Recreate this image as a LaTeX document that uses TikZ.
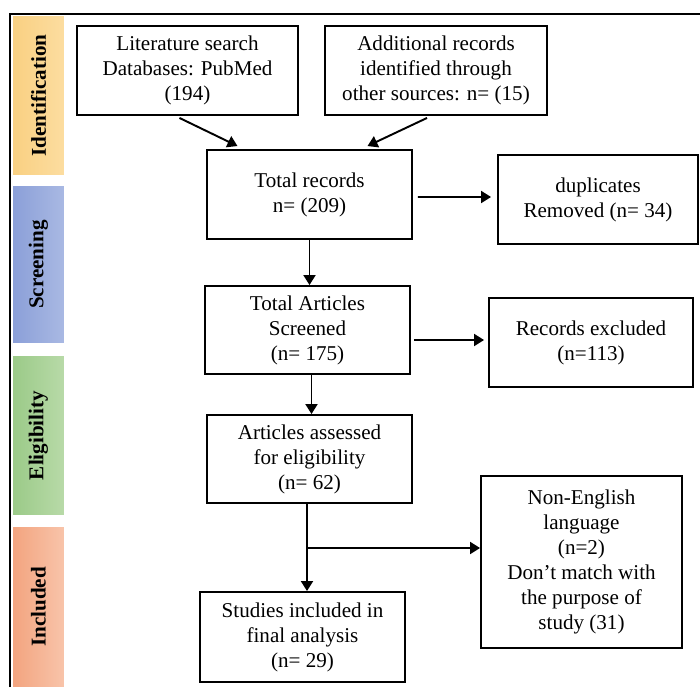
\documentclass[tikz,border=0pt]{standalone}
\usepackage{fontspec}
\setmainfont{Liberation Serif}
\usepackage{xcolor}
\usetikzlibrary{arrows.meta, calc, positioning}

\definecolor{idtop}{HTML}{FCDDA0}
\definecolor{idbot}{HTML}{F9D082}
\definecolor{sctop}{HTML}{A9B9E3}
\definecolor{scbot}{HTML}{8B9FD8}
\definecolor{eltop}{HTML}{B8DAA8}
\definecolor{elbot}{HTML}{9BCA88}
\definecolor{intop}{HTML}{F8C4AA}
\definecolor{inbot}{HTML}{F3A47F}

\tikzset{
  box/.style={draw, line width=1.1pt, align=center, inner sep=2pt, font=\fontsize{12}{14.2}\selectfont},
  phase/.style={rotate=90, minimum height=1.02cm, inner sep=0pt, font=\fontsize{12}{14}\selectfont\bfseries},
  arr/.style={-{Triangle[length=0.2cm, width=0.24cm]}, line width=1.1pt}
}

\begin{document}
\begin{tikzpicture}[x=0.02cm, y=-0.02cm]
\useasboundingbox (0,0) rectangle (700,687);
\draw[line width=1.2pt] (10,687) -- (10,14) -- (700,14);

% phases
\node[phase, minimum width=3.18cm, left color=idbot, right color=idtop] (ident) at (38.5,95.5) {Identification};
\node[phase, minimum width=3.14cm, left color=scbot, right color=sctop] (screen) at (38.5,264.5) {Screening};
\node[phase, minimum width=3.18cm, left color=elbot, right color=eltop] (elig) at (38.5,435.5) {Eligibility};
\node[phase, minimum width=3.2cm, left color=inbot, right color=intop] (incl) at (38.5,607) {Included};

% boxes
\node[box, minimum width=4.42cm, minimum height=1.78cm] (lit) at (187.5,70.5) {Literature search\\Databases: PubMed\\(194)};
\node[box, minimum width=4.44cm, minimum height=1.78cm] (extra) at (436,70.5) {Additional records\\identified through\\other sources: n= (15)};
\node[box, minimum width=4.1cm, minimum height=1.78cm] (total) at (309.5,194.5) {Total records\\n= (209)};
\node[box, minimum width=4.0cm, minimum height=1.78cm] (dup) at (598,199.5) {duplicates\\Removed (n= 34)};
\node[box, minimum width=4.1cm, minimum height=1.76cm] (screened) at (307.5,330) {Total Articles\\Screened\\(n= 175)};
\node[box, minimum width=4.08cm, minimum height=1.78cm] (excl) at (591,342.5) {Records excluded\\(n=113)};
\node[box, minimum width=4.1cm, minimum height=1.76cm] (assessed) at (309.5,459) {Articles assessed\\for eligibility\\(n= 62)};
\node[box, minimum width=4.02cm, minimum height=3.44cm] (nonen) at (581.5,562) {Non-English\\language\\(n=2)\\Don’t match with\\the purpose of\\study (31)};
\node[box, minimum width=4.1cm, minimum height=1.8cm] (studies) at (302.5,637) {Studies included in\\final analysis\\(n= 29)};
\coordinate (split) at (307,548);
\coordinate (s1) at ($(screened.south)+(4,0)$);
\coordinate (s2) at ($(assessed.south)+(-2.5,0)$);

% arrows
\draw[arr] ($(lit.south)+(-8,2)$) -- ($(total.north)+(-72,-3)$);
\draw[arr] ($(extra.south)+(-9,2)$) -- ($(total.north)+(58,-3)$);
\draw[arr] (total.south) -- (total.south |- screened.north);
\draw[arr] ($(total.east)+(5,2.5)$) -- ($(dup.west)+(-6,-2.5)$);
\draw[arr] (s1) -- (s1 |- assessed.north);
\draw[arr] ($(screened.east)+(3,10)$) -- ($(excl.west)+(-4,-2.5)$);
\draw[arr] (s2) -- (s2 |- studies.north);
\draw[arr] (split) -- (split -| nonen.west);
\end{tikzpicture}
\end{document}
